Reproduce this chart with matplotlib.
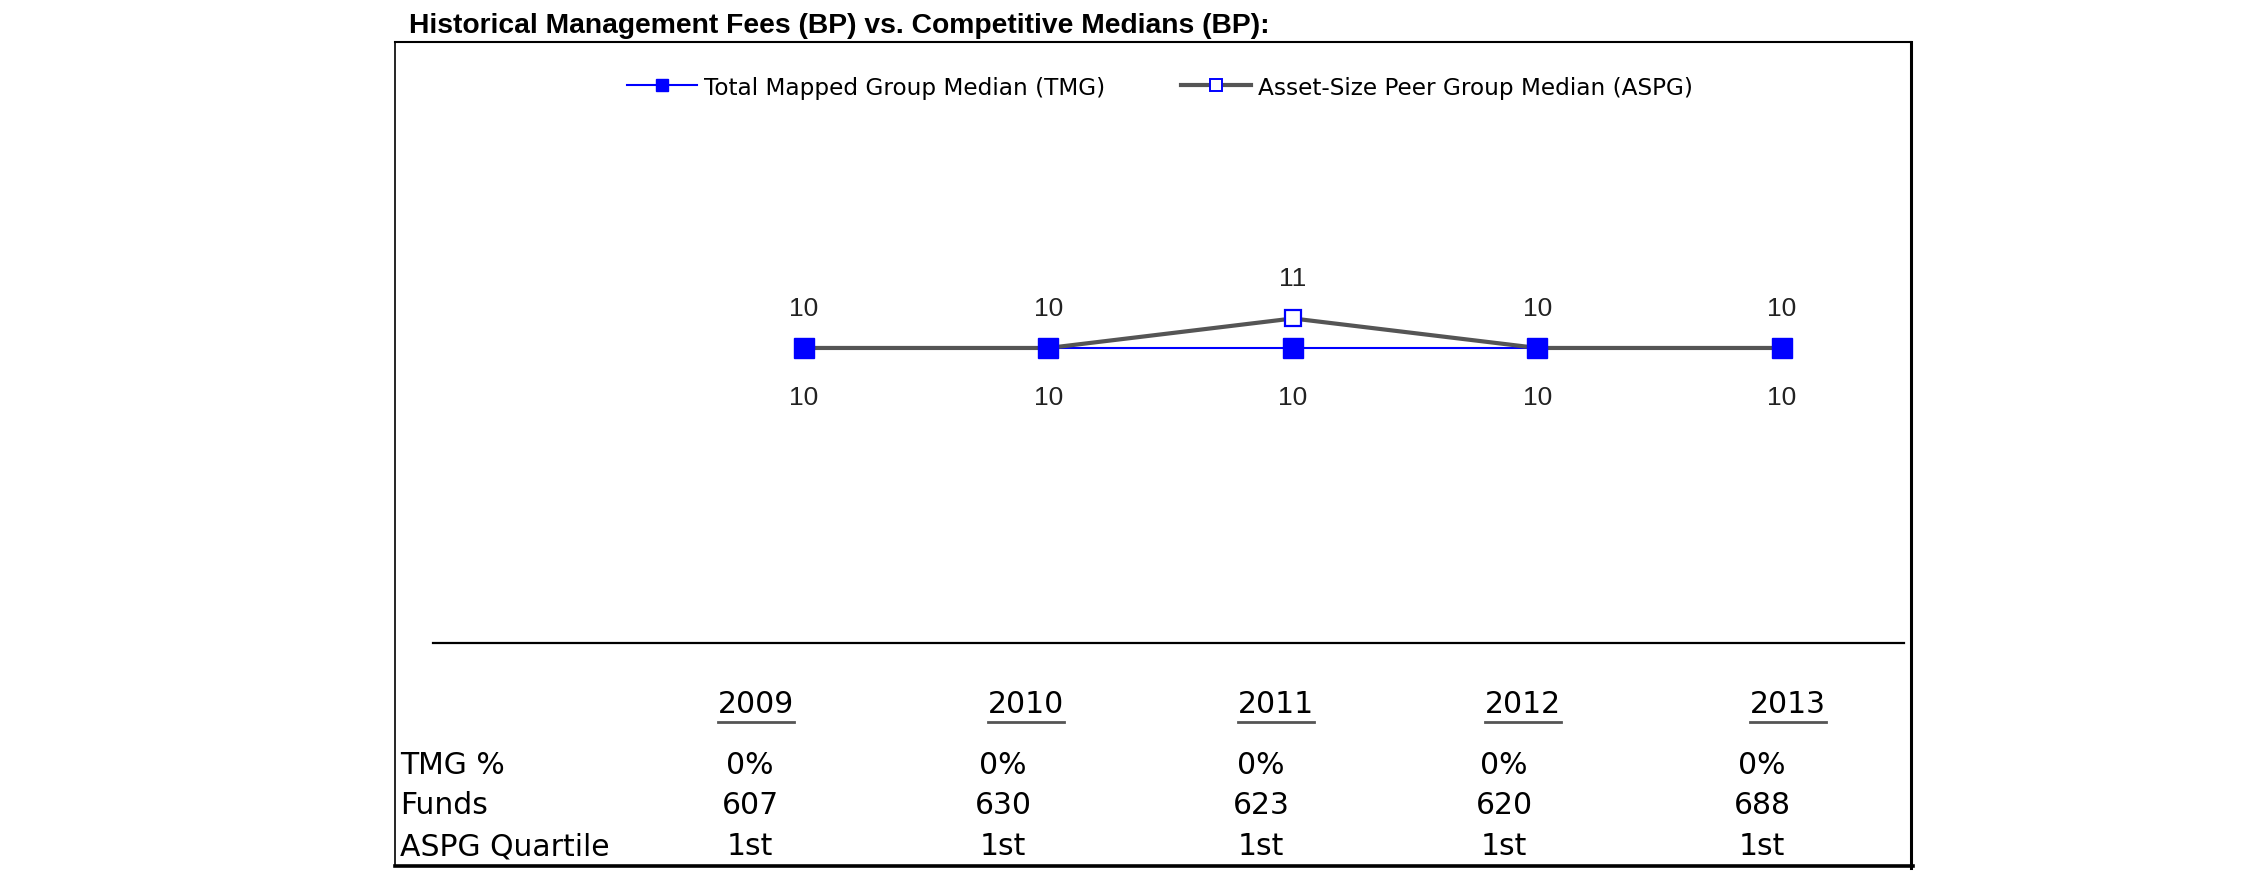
import matplotlib.pyplot as plt
from matplotlib.lines import Line2D

# --- data ---
years = [2009, 2010, 2011, 2012, 2013]
tmg_median = [10, 10, 10, 10, 10]
aspg_median = [10, 10, 11, 10, 10]
row_labels = ['TMG %', 'Funds', 'ASPG Quartile']
tmg_pct = ['0%', '0%', '0%', '0%', '0%']
funds = ['607', '630', '623', '620', '688']
aspg_quartile = ['1st', '1st', '1st', '1st', '1st']

# --- layout (pixels of the 2250x895 canvas) ---
W, H = 2250, 895
HDR_X = [756, 1026, 1276, 1523, 1788]
VAL_X = [750, 1003, 1261, 1504, 1762]
ROW_Y = [765, 806, 847]
BLUE = '#0000ff'
GREY = '#555555'
ARIAL = 'Liberation Sans'
WIDE = 'DejaVu Sans'


def fx(px):
    return px / W


def fy(py):
    return 1 - py / H


fig = plt.figure(figsize=(W / 100, H / 100), dpi=100)

# plot area, bottom spine is the separator line
ax = fig.add_axes([fx(433), fy(644), fx(1904) - fx(433), fy(110) - fy(644)])
ax.set_xlim(years[0] - 1.517, years[0] + 4.499)
ax.set_ylim(0, 18.1)
for side in ['top', 'left', 'right']:
    ax.spines[side].set_visible(False)
ax.spines['bottom'].set_linewidth(1.6)
ax.set_xticks([])
ax.set_yticks([])

ax.plot(years, tmg_median, color=BLUE, linewidth=1.5, zorder=2)
ax.plot(years, aspg_median, color=GREY, linewidth=3, marker='s', markersize=11,
        markerfacecolor='white', markeredgecolor=BLUE, markeredgewidth=1.6, zorder=3)
ax.plot(years, tmg_median, linestyle='none', marker='s', markersize=14,
        color=BLUE, zorder=4)

for x, a, t in zip(years, aspg_median, tmg_median):
    ax.annotate(f'{a}', (x, a), xytext=(0, 29), textcoords='offset points',
                ha='center', va='center', fontsize=19, family=ARIAL, color='#222222')
    ax.annotate(f'{t}', (x, t), xytext=(0, -35), textcoords='offset points',
                ha='center', va='center', fontsize=19, family=ARIAL, color='#222222')

# legend, one entry per series
h_tmg = Line2D([], [], color=BLUE, linewidth=1.5, marker='s', markersize=9)
h_aspg = Line2D([], [], color=GREY, linewidth=3, marker='s', markersize=8,
                markerfacecolor='white', markeredgecolor=BLUE, markeredgewidth=1.4)
for handle, label, x0 in [(h_tmg, 'Total Mapped Group Median (TMG)', 627),
                          (h_aspg, 'Asset-Size Peer Group Median (ASPG)', 1181)]:
    fig.legend([handle], [label], loc='center left', bbox_to_anchor=(fx(x0), fy(88)),
               frameon=False, borderpad=0, borderaxespad=0, handlelength=3.0,
               handletextpad=0.3, prop={'family': WIDE, 'size': 16.7})

# title
fig.text(fx(409), fy(26), 'Historical Management Fees (BP) vs. Competitive Medians (BP):',
         ha='left', va='center', fontsize=20.3, fontweight='bold', family=ARIAL)

# outer box
fig.add_artist(Line2D([fx(395), fx(1911)], [fy(43), fy(43)], color='black', linewidth=1.5))
fig.add_artist(Line2D([fx(395), fx(395)], [fy(43), fy(867)], color='black', linewidth=1.2))
fig.add_artist(Line2D([fx(1911), fx(1911)], [fy(43), fy(869)], color='black', linewidth=2.2))
fig.add_artist(Line2D([fx(395), fx(1913)], [fy(867), fy(867)], color='black', linewidth=2.6))

# table below the chart
headers = []
for x, yr in zip(HDR_X, years):
    headers.append(fig.text(fx(x), fy(705), str(yr), ha='center', va='center',
                            fontsize=21.5, family=WIDE))
rows = [tmg_pct, funds, aspg_quartile]
for y, lab, vals in zip(ROW_Y, row_labels, rows):
    fig.text(fx(400), fy(y), lab, ha='left', va='center', fontsize=21.5, family=WIDE)
    for x, v in zip(VAL_X, vals):
        fig.text(fx(x), fy(y), v, ha='center', va='center', fontsize=21.5, family=WIDE)

# underline the year headers
fig.canvas.draw()
renderer = fig.canvas.get_renderer()
for t in headers:
    bb = t.get_window_extent(renderer)
    yline = bb.y0 - 3
    fig.add_artist(Line2D([bb.x0 / W, bb.x1 / W], [yline / H, yline / H],
                          color=GREY, linewidth=2))

fig.savefig('out.png', dpi=100)
